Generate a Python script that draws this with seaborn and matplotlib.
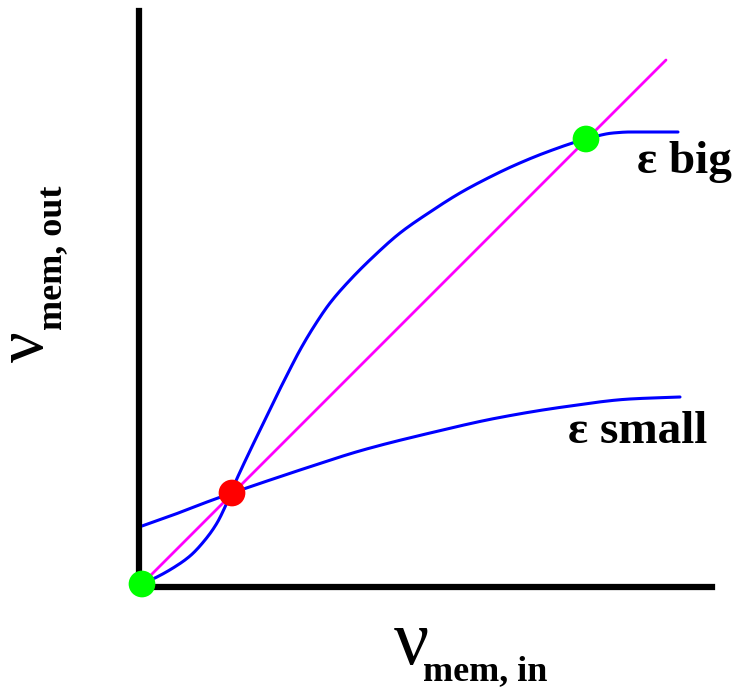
import matplotlib
matplotlib.use("Agg")
import matplotlib.pyplot as plt
import seaborn as sns
import pandas as pd
import numpy as np

# Transfer curves: output rate vs input rate (arbitrary units)
big_x = [0.00, 0.13, 0.31, 0.48, 0.63, 0.75, 0.83, 0.93, 1.05, 1.18, 1.31, 1.45,
         1.58, 1.71, 1.88, 2.08, 2.31, 2.58, 2.88, 3.18, 3.48, 3.71, 4.05, 4.44,
         4.71, 4.88, 5.36]
big_y = [0.00, 0.06, 0.16, 0.28, 0.44, 0.61, 0.77, 1.01, 1.27, 1.54, 1.81, 2.09,
         2.34, 2.56, 2.81, 3.04, 3.27, 3.51, 3.72, 3.91, 4.07, 4.18, 4.32, 4.45,
         4.51, 4.52, 4.52]

small_x = [0.00, 0.31, 0.65, 0.90, 1.31, 1.58, 2.21, 2.88, 3.55, 4.21, 4.88, 5.38]
small_y = [0.58, 0.69, 0.82, 0.91, 1.05, 1.14, 1.34, 1.51, 1.66, 1.77, 1.85, 1.87]

# Identity line (output = input)
diag_x = [0.00, 5.24]
diag_y = [0.00, 5.24]

# Fixed points
stable_x = [0.00, 4.44]
stable_y = [0.00, 4.45]
unstable_x = [0.90]
unstable_y = [0.91]

curve_labels = ["ε big", "ε small"]


def smooth_path(xs, ys, steps=16):
    """Monotone cubic Hermite stroke through the given points."""
    x = np.asarray(xs, float)
    y = np.asarray(ys, float)
    h = np.diff(x)
    d = np.diff(y) / h
    m = np.zeros_like(x)
    m[0], m[-1] = d[0], d[-1]
    for k in range(1, len(x) - 1):
        if d[k - 1] * d[k] <= 0:
            m[k] = 0.0
        else:
            w1 = 2 * h[k] + h[k - 1]
            w2 = h[k] + 2 * h[k - 1]
            m[k] = (w1 + w2) / (w1 / d[k - 1] + w2 / d[k])
    px, py = [], []
    for k in range(len(x) - 1):
        t = np.linspace(0, 1, steps, endpoint=False)
        h00 = 2 * t ** 3 - 3 * t ** 2 + 1
        h10 = t ** 3 - 2 * t ** 2 + t
        h01 = -2 * t ** 3 + 3 * t ** 2
        h11 = t ** 3 - t ** 2
        px.append(x[k] + t * h[k])
        py.append(h00 * y[k] + h10 * h[k] * m[k] + h01 * y[k + 1]
                  + h11 * h[k] * m[k + 1])
    px.append([x[-1]])
    py.append([y[-1]])
    return pd.DataFrame({"x": np.concatenate(px), "y": np.concatenate(py)})


sns.set_theme(style="white")
plt.rcParams["font.family"] = ["Liberation Serif", "DejaVu Serif"]

fig = plt.figure(figsize=(7.36, 6.88), dpi=100)
ax = fig.add_axes([142 / 736, (688 - 584) / 688, 570 / 736, 573 / 688])

big = smooth_path(big_x, big_y)
small = smooth_path(small_x, small_y)
diag = pd.DataFrame({"x": diag_x, "y": diag_y})

sns.lineplot(data=diag, x="x", y="y", color="#ff00ff", linewidth=2.0,
             sort=False, estimator=None, ax=ax, zorder=2)
sns.lineplot(data=big, x="x", y="y", color="#0000ff", linewidth=2.2,
             sort=False, estimator=None, ax=ax, zorder=3)
sns.lineplot(data=small, x="x", y="y", color="#0000ff", linewidth=2.2,
             sort=False, estimator=None, ax=ax, zorder=3)

sns.scatterplot(x=stable_x, y=stable_y, color="#00ff00", s=370,
                edgecolor="none", ax=ax, zorder=5, clip_on=False)
sns.scatterplot(x=unstable_x, y=unstable_y, color="#ff0000", s=370,
                edgecolor="none", ax=ax, zorder=5, clip_on=False)

ax.set_xlim(0, 5.70)
ax.set_ylim(0, 5.73)
ax.set_xticks([])
ax.set_yticks([])
ax.set_xlabel("")
ax.set_ylabel("")
for side in ["top", "right"]:
    ax.spines[side].set_visible(False)
for side in ["left", "bottom"]:
    ax.spines[side].set_color("black")
    ax.spines[side].set_linewidth(4.5)
    ax.spines[side].set_position(("outward", 2))

# Curve labels
ax.text(4.95, 4.11, curve_labels[0], fontsize=34, fontweight="bold",
        ha="left", va="baseline", color="black")
ax.text(4.26, 1.41, curve_labels[1], fontsize=34, fontweight="bold",
        ha="left", va="baseline", color="black")

# Axis labels built from a large ν and a bold subscript
fig.text(429 / 736, 1 - 664 / 688, "ν", fontsize=56, ha="right",
         va="baseline", color="black")
fig.text(423 / 736, 1 - 680 / 688, "mem, in", fontsize=26, fontweight="bold",
         ha="left", va="baseline", color="black")

fig.text(43 / 736, 1 - 362 / 688, "ν", fontsize=49, rotation=90,
         rotation_mode="anchor", ha="left", va="baseline", color="black")
fig.text(62 / 736, 1 - 330 / 688, "mem, out", fontsize=26, fontweight="bold",
         rotation=90, rotation_mode="anchor", ha="left", va="baseline",
         color="black")

fig.savefig("out.png", dpi=100, facecolor="white")
